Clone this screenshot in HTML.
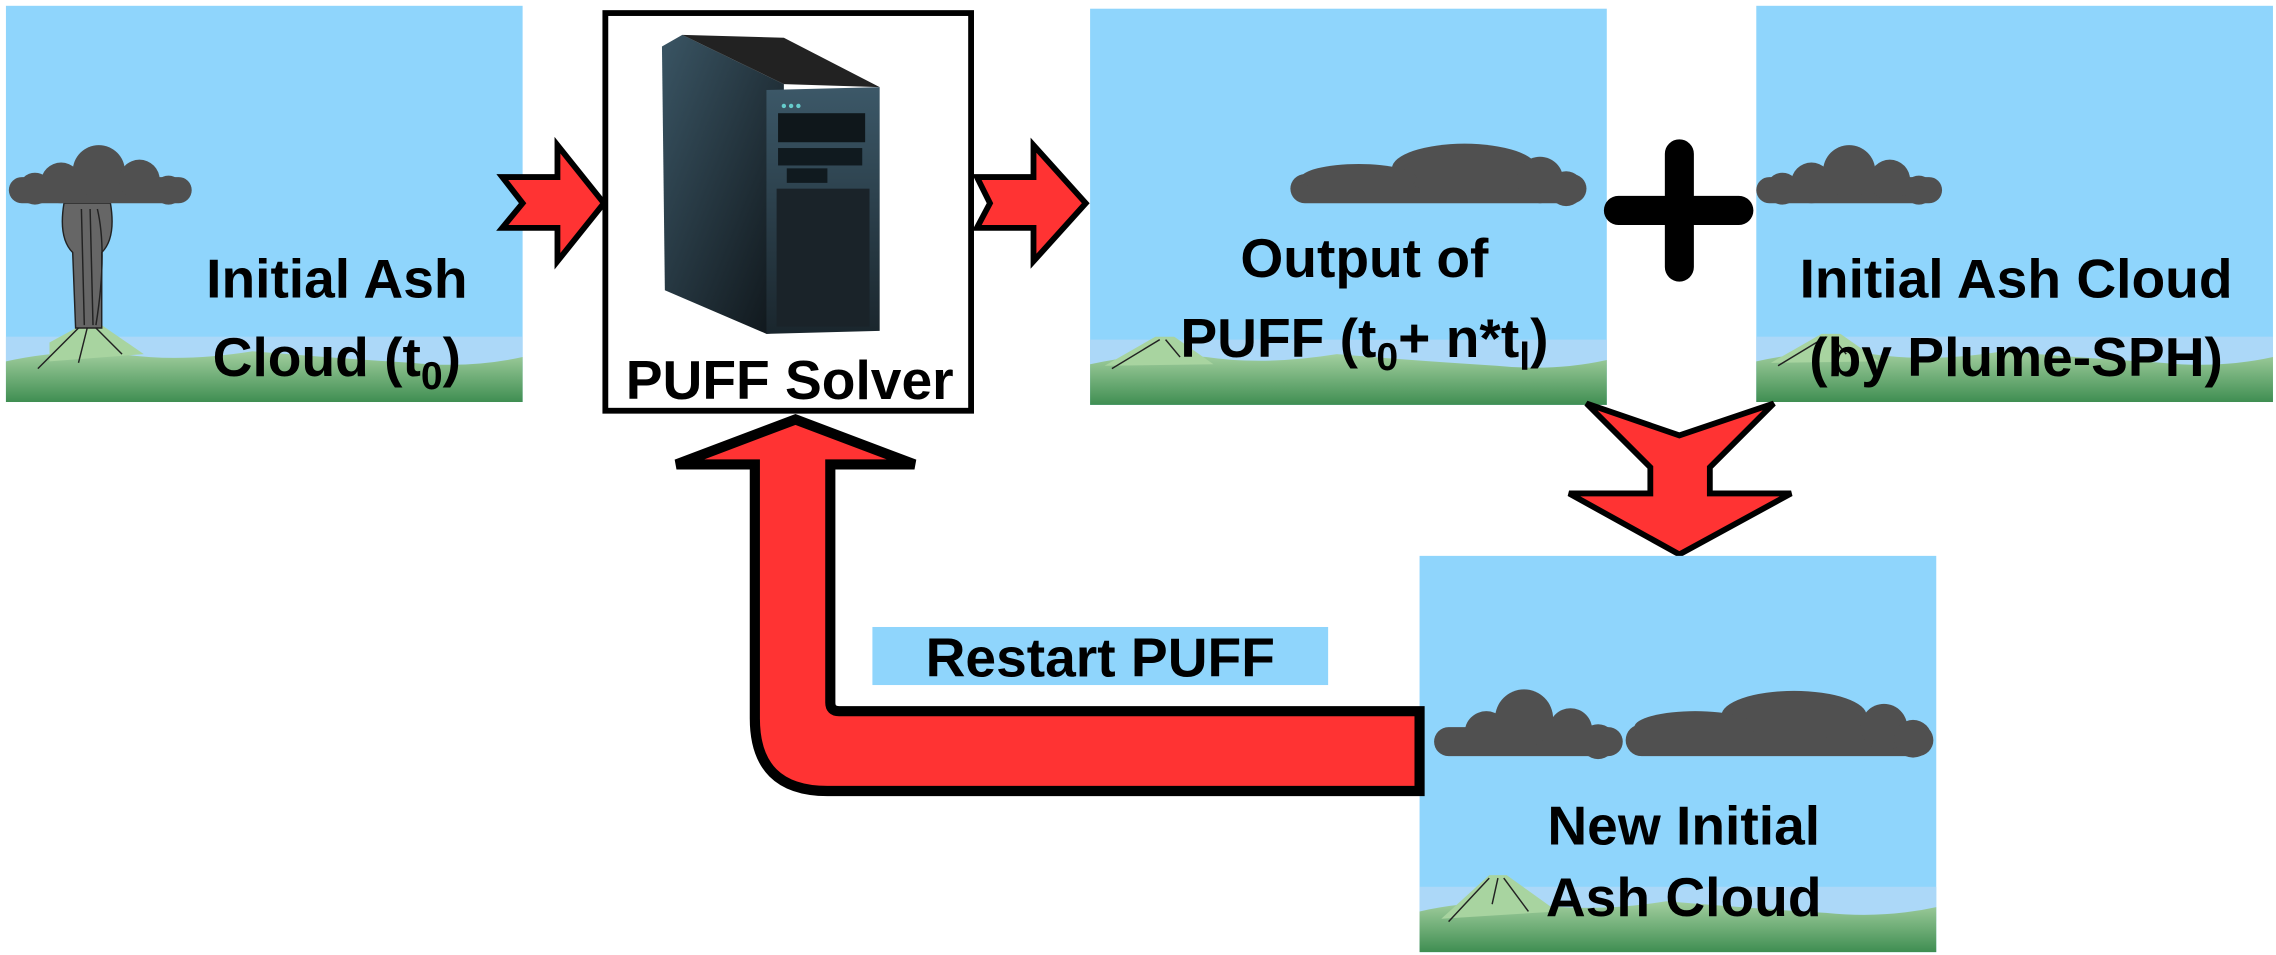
<!DOCTYPE html>
<html><head><meta charset="utf-8"><style>html,body{margin:0;padding:0;background:#fff}svg{display:block}</style></head>
<body>
<svg width="2276" height="955" viewBox="0 0 1568 658" xmlns="http://www.w3.org/2000/svg" font-family="Liberation Sans, Arial, sans-serif" font-weight="bold">
<defs>
<linearGradient id="g" x1="0" y1="0" x2="0" y2="1"><stop offset="0" stop-color="#a3cf9f"/><stop offset="1" stop-color="#3f8e52"/></linearGradient>
<linearGradient id="side" x1="0" y1="0" x2="1" y2="1"><stop offset="0" stop-color="#3a5564"/><stop offset="1" stop-color="#0e1418"/></linearGradient>
<linearGradient id="front" x1="0" y1="0" x2="0" y2="1"><stop offset="0" stop-color="#3c5868"/><stop offset="1" stop-color="#1a262d"/></linearGradient>
<g id="land">
<rect x="0" y="0" width="356" height="273" fill="#8fd5fc"/>
<rect x="0" y="228" width="356" height="24" fill="#acd8f8"/>
<path d="M0,245 Q40,236 80,240 Q120,246 170,238 Q230,243 280,246 Q320,250 356,242 L356,273 L0,273 Z" fill="url(#g)"/>
</g>
</defs>
<!-- P1 -->
<g transform="translate(4,4)"><use href="#land"/>
<path d="M30,232 L52,220 L66,220 L95,240 L30,245 Z" fill="#a8d4a0"/>
<path d="M40,136 Q36,160 46,170 L48,222 L66,222 L66,170 Q76,160 72,136 Z" fill="#666" stroke="#222" stroke-width="1"/>
<path d="M52,140 L54,220 M58,140 L60,220 M63,140 Q70,170 62,220" stroke="#222" fill="none" stroke-width="1"/>
<path d="M50,222 L22,250 M56,222 L50,246 M62,222 L80,240" stroke="#222" fill="none"/>
<g fill="#505050"><rect x="2" y="118" width="126" height="18" rx="9"/><circle cx="64" cy="114" r="18"/><circle cx="38" cy="122" r="14"/><circle cx="92" cy="120" r="14"/><circle cx="112" cy="127" r="10"/><circle cx="20" cy="126" r="11"/></g>
<text x="228" y="201" font-size="38" text-anchor="middle">Initial Ash</text>
<text x="228" y="255" font-size="38" text-anchor="middle">Cloud (t<tspan font-size="27" dy="9">0</tspan><tspan dy="-9">)</tspan></text>
</g>
<!-- PUFF box -->
<rect x="417" y="9" width="252" height="274" fill="#fff" stroke="#000" stroke-width="4"/>
<path d="M456,32 L470,24 L540,58 L540,229 L528,230 L458,200 Z" fill="url(#side)"/>
<path d="M528,62 L606,60 L606,228 L528,230 Z" fill="url(#front)"/>
<path d="M470,24 L540,58 L606,60 L540,26 Z" fill="#222"/>
<rect x="536" y="78" width="60" height="20" fill="#0f171b"/>
<rect x="536" y="102" width="58" height="12" fill="#101a1f"/>
<rect x="542" y="116" width="28" height="10" fill="#101a1f"/>
<rect x="535" y="130" width="64" height="95" fill="#1a2329"/>
<circle cx="540" cy="73" r="1.5" fill="#6cc"/><circle cx="545" cy="73" r="1.5" fill="#6cc"/><circle cx="550" cy="73" r="1.5" fill="#6cc"/>
<text x="544" y="275" font-size="38" text-anchor="middle">PUFF Solver</text>
<!-- arrows right -->
<path d="M346,122 L384,122 L384,100 L416,140 L384,180 L384,157 L346,157 L360,140 Z" fill="#f33" stroke="#000" stroke-width="4" stroke-linejoin="miter"/>
<path d="M673,122 L712,122 L712,100 L748,140 L712,180 L712,157 L673,157 L682,140 Z" fill="#f33" stroke="#000" stroke-width="4"/>
<!-- P3 -->
<g transform="translate(751,6)"><use href="#land"/>
<path d="M10,246 L45,226 L58,226 L85,245 Z" fill="#a8d4a0"/><path d="M15,248 L48,228 M52,228 L62,240" stroke="#222" fill="none"/>
<g fill="#505050"><rect x="138" y="114" width="204" height="20" rx="10"/><ellipse cx="258" cy="110" rx="50" ry="17"/><circle cx="310" cy="118" r="16"/><circle cx="328" cy="124" r="12"/><ellipse cx="185" cy="117" rx="40" ry="10"/></g>
<text x="189" y="185" font-size="38" text-anchor="middle">Output of</text>
<text x="189" y="240" font-size="38" text-anchor="middle">PUFF (t<tspan font-size="27" dy="9">0</tspan><tspan dy="-9">+ n*t</tspan><tspan font-size="27" dy="9">l</tspan><tspan dy="-9">)</tspan></text>
</g>
<!-- plus -->
<path d="M1115,145 H1198 M1157,106 V184" stroke="#000" stroke-width="20" stroke-linecap="round"/>
<!-- P4 -->
<g transform="translate(1210,4)"><use href="#land"/>
<path d="M10,246 L45,226 L58,226 L85,245 Z" fill="#a8d4a0"/><path d="M15,248 L48,228 M52,228 L62,240" stroke="#222" fill="none"/>
<g fill="#505050"><rect x="0" y="118" width="128" height="18" rx="9"/><circle cx="64" cy="114" r="18"/><circle cx="38" cy="122" r="14"/><circle cx="92" cy="120" r="14"/><circle cx="112" cy="127" r="10"/><circle cx="18" cy="126" r="11"/></g>
<text x="179" y="201" font-size="38" text-anchor="middle">Initial Ash Cloud</text>
<text x="179" y="255" font-size="38" text-anchor="middle">(by Plume-SPH)</text>
</g>
<!-- down chevron -->
<path d="M1093,278 L1157,300 L1222,278 L1178,322 L1178,340 L1234,340 L1157,382 L1081,340 L1137,340 L1137,322 Z" fill="#f33" stroke="#000" stroke-width="4"/>
<!-- P5 -->
<g transform="translate(978,383)"><use href="#land"/>
<path d="M15,250 L48,220 L60,220 L95,245 Z" fill="#a8d4a0"/><path d="M20,252 L48,222 M54,222 L50,240 M58,222 L75,245" stroke="#222" fill="none"/>
<g fill="#505050"><rect x="10" y="118" width="130" height="20" rx="10"/><circle cx="72" cy="112" r="20"/><circle cx="46" cy="122" r="15"/><circle cx="104" cy="120" r="15"/><circle cx="123" cy="128" r="12"/><rect x="142" y="116" width="212" height="22" rx="11"/><ellipse cx="258" cy="110" rx="50" ry="17"/><circle cx="320" cy="118" r="16"/><circle cx="340" cy="126" r="13"/><ellipse cx="190" cy="118" rx="42" ry="11"/></g>
<text x="182" y="199" font-size="38" text-anchor="middle">New Initial</text>
<text x="182" y="248" font-size="38" text-anchor="middle">Ash Cloud</text>
</g>
<!-- U arrow -->
<path d="M978,490 L578,490 Q572,490 572,484 L572,320 L630,320 L548,289 L466,320 L520,320 L520,495 Q520,545 570,545 L978,545 Z" fill="#f33" stroke="#000" stroke-width="7" stroke-linejoin="miter"/>
<!-- Restart label -->
<rect x="601" y="432" width="314" height="40" fill="#8fd5fc"/>
<text x="758" y="466" font-size="38" text-anchor="middle">Restart PUFF</text>
</svg>
</body></html>
